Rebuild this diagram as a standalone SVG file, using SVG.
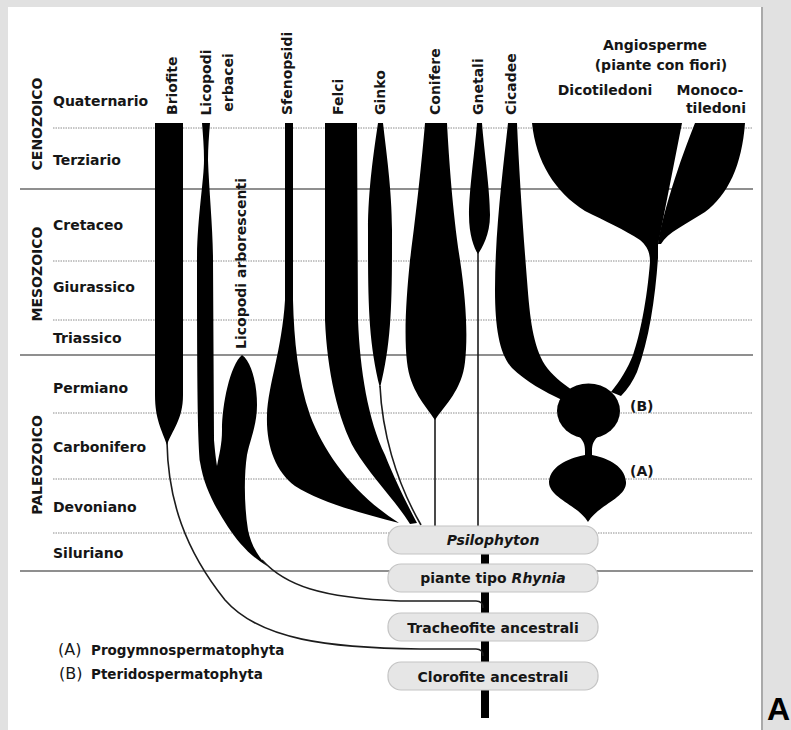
<svg xmlns="http://www.w3.org/2000/svg" width="791" height="730" viewBox="0 0 791 730">
  <style>
    .t { font-family: "DejaVu Sans", Verdana, sans-serif; font-weight: bold; font-size: 14px; fill: #161616; }
    .leg { font-size: 13.5px; }
    .par { font-weight: normal; font-size: 16px; }
    .solid { stroke: #6a6a6a; stroke-width: 1.3; fill: none; }
    .dot { stroke: #8c8c8c; stroke-width: 1; stroke-dasharray: 1.5 1; fill: none; }
    .clade { fill: #000; }
    .thin { stroke: #1c1c1c; stroke-width: 1.6; fill: none; }
    .box { fill: #e6e6e6; stroke: #c4c4c4; stroke-width: 1.2; }
  </style>

  <!-- page and panel -->
  <rect x="0" y="0" width="791" height="730" fill="#e1e1e1"/>
  <rect x="8" y="7" width="754" height="723" fill="#fff"/>
  <line x1="762" y1="7" x2="762" y2="730" stroke="#a9a9a9" stroke-width="2"/>
  <text x="767" y="720" font-family="'Liberation Sans', Arial, sans-serif" font-weight="bold" font-size="32" fill="#000">A</text>

  <!-- time scale grid -->
  <g id="grid">
    <line class="dot" x1="53" y1="128" x2="752" y2="128"/>
    <line class="solid" x1="20" y1="189" x2="753" y2="189"/>
    <line class="dot" x1="53" y1="261" x2="752" y2="261"/>
    <line class="dot" x1="53" y1="320" x2="752" y2="320"/>
    <line class="solid" x1="20" y1="355" x2="753" y2="355"/>
    <line class="dot" x1="53" y1="413" x2="752" y2="413"/>
    <line class="dot" x1="53" y1="479" x2="752" y2="479"/>
    <line class="dot" x1="53" y1="533" x2="752" y2="533"/>
    <line class="solid" x1="20" y1="571" x2="753" y2="571"/>
  </g>

  <!-- eras -->
  <g id="eras" class="t">
    <text transform="translate(42,124) rotate(-90)" text-anchor="middle">CENOZOICO</text>
    <text transform="translate(42,274) rotate(-90)" text-anchor="middle">MESOZOICO</text>
    <text transform="translate(42,465) rotate(-90)" text-anchor="middle">PALEOZOICO</text>
  </g>

  <!-- periods -->
  <g id="periods" class="t">
    <text x="53" y="106">Quaternario</text>
    <text x="53" y="165">Terziario</text>
    <text x="53" y="230">Cretaceo</text>
    <text x="53" y="292">Giurassico</text>
    <text x="53" y="343">Triassico</text>
    <text x="53" y="393">Permiano</text>
    <text x="53" y="452">Carbonifero</text>
    <text x="53" y="512">Devoniano</text>
    <text x="53" y="558">Siluriano</text>
  </g>

  <!-- connectors: stems leading back to the ancestral groups -->
  <g id="connectors">
    <rect x="481" y="554" width="8" height="164" fill="#000"/>
    <path class="thin" d="M167,442 C168,500 185,550 225,600 C260,640 330,648 420,649 L476,649 Q483,649 483,656"/>
    <path class="thin" stroke-width="2" d="M262,560 C285,585 320,598 400,601 L476,601 Q483,601 483,608"/>
    <path class="thin" d="M380,386 C382,430 395,480 421,525"/>
    <line class="thin" x1="435" y1="418" x2="435" y2="527"/>
    <line class="thin" x1="478" y1="250" x2="478" y2="527"/>
  </g>

  <!-- Briofite -->
  <g id="briofite">
    <path class="clade" d="M155,123 H183 V395 C183,420 172,430 167,445 C162,430 155,420 155,395 Z"/>
    <text class="t" transform="translate(177,115) rotate(-90)">Briofite</text>
  </g>

  <!-- Licopodi erbacei + arborescenti -->
  <g id="licopodi">
    <path class="clade" d="M202,123 L210,123 C209,135 208,148 208,160 C209,190 213,230 213,260 L214,440 C215,452 216,460 217,466 C219,455 222,445 222,430 C222,405 230,365 242,355 C252,362 257,385 257,405 C257,425 250,440 247,455 C244,475 244,505 248,530 C251,545 258,556 267,566 C250,556 238,542 228,527 C215,507 204,487 200,462 C198,440 197,400 197,260 C197,220 204,180 204,160 C204,148 203,135 202,123 Z"/>
    <text class="t" transform="translate(211,82.5) rotate(-90)" text-anchor="middle">Licopodi</text>
    <text class="t" transform="translate(233,82.5) rotate(-90)" text-anchor="middle">erbacei</text>
    <text class="t" transform="translate(246,349) rotate(-90)">Licopodi arborescenti</text>
  </g>

  <!-- Sfenopsidi -->
  <g id="sfenopsidi">
    <path class="clade" d="M285,123 L293,123 L293,300 C294,340 298,380 310,415 C325,455 355,495 399,523 C360,513 320,502 295,486 C275,471 266,445 267,415 C268,385 282,350 285,300 Z"/>
    <text class="t" transform="translate(292,115) rotate(-90)">Sfenopsidi</text>
  </g>

  <!-- Felci -->
  <g id="felci">
    <path class="clade" d="M325,123 L357,123 L358,320 C360,370 368,420 385,455 C395,480 405,500 417,523 L410,524 C395,500 370,475 355,450 C338,420 327,370 325,320 Z"/>
    <text class="t" transform="translate(343,115) rotate(-90)">Felci</text>
  </g>

  <!-- Ginko -->
  <g id="ginko">
    <path class="clade" d="M378,123 L383,123 C386,150 392,190 392,230 C392,300 392,340 380,388 C368,340 368,300 368,230 C368,190 374,150 378,123 Z"/>
    <text class="t" transform="translate(385,115) rotate(-90)">Ginko</text>
  </g>

  <!-- Conifere -->
  <g id="conifere">
    <path class="clade" d="M425,123 L447,123 C449,160 453,215 460,260 C466,300 468,335 465,362 C462,390 445,405 435,420 C425,405 410,390 407,362 C404,335 406,300 410,260 C416,215 422,160 425,123 Z"/>
    <text class="t" transform="translate(440,115) rotate(-90)">Conifere</text>
  </g>

  <!-- Gnetali -->
  <g id="gnetali">
    <path class="clade" d="M477,123 L482,123 C484,150 490,190 490,215 C490,235 482,248 478,254 C474,248 469,235 469,215 C469,190 475,150 477,123 Z"/>
    <text class="t" transform="translate(483,115) rotate(-90)">Gnetali</text>
  </g>

  <!-- Cicadee -->
  <g id="cicadee">
    <path class="clade" d="M508,123 L517,123 C519,170 523,230 527,280 C530,320 533,345 545,365 C552,375 562,383 572,390 L562,400 C545,392 525,381 512,368 C500,355 495,330 495,290 C495,230 503,170 508,123 Z"/>
    <text class="t" transform="translate(516,115) rotate(-90)">Cicadee</text>
  </g>

  <!-- Angiosperme -->
  <g id="angiosperme">
    <path class="clade" d="M532,123 L682,123 L658,245 L658,258 C655,300 649,340 637,372 C633,381 628,389 621,396 L611,392 C620,381 628,368 633,355 C640,335 647,300 650,262 C650,252 647,246 640,240 C625,230 605,221 585,211 C555,192 536,162 532,123 Z"/>
    <path class="clade" d="M695,123 L745,123 C742,165 728,195 705,212 C685,225 668,232 661,244 L658,244 C662,215 680,160 695,123 Z"/>
    <text class="t" x="655" y="50" text-anchor="middle">Angiosperme</text>
    <text class="t" x="661" y="70" text-anchor="middle">(piante con fiori)</text>
    <text class="t" x="605" y="95" text-anchor="middle">Dicotiledoni</text>
    <text class="t" x="710" y="95" text-anchor="middle">Monoco-</text>
    <text class="t" x="716" y="113" text-anchor="middle">tiledoni</text>
  </g>

  <!-- Pteridospermatophyta (B) and Progymnospermatophyta (A) -->
  <g id="seed-ferns">
    <ellipse class="clade" cx="588.5" cy="411" rx="31.5" ry="27.5"/>
    <path class="clade" d="M576,434 C584,440 585,445 585,451 L585,457 L592,457 L592,451 C592,445 593,440 601,434 Z"/>
    <path class="clade" d="M585,455 C574,457 550,464 549,482 C549,498 578,505 588,522 C598,505 627,498 626,482 C625,464 603,457 592,455 Z"/>
    <text class="t" x="630" y="411">(B)</text>
    <text class="t" x="630" y="476">(A)</text>
  </g>

  <!-- ancestral groups -->
  <g id="psilophyton">
    <rect class="box" x="388" y="526" width="210" height="28" rx="13"/>
    <text class="t" x="493" y="545" text-anchor="middle" font-style="italic">Psilophyton</text>
  </g>
  <g id="rhynia">
    <rect class="box" x="388" y="564" width="210" height="28" rx="13"/>
    <text class="t" x="493" y="583" text-anchor="middle">piante tipo <tspan font-style="italic">Rhynia</tspan></text>
  </g>
  <g id="tracheofite">
    <rect class="box" x="388" y="613" width="210" height="28" rx="13"/>
    <text class="t" x="493" y="633" text-anchor="middle">Tracheofite ancestrali</text>
  </g>
  <g id="clorofite">
    <rect class="box" x="388" y="662" width="210" height="28" rx="13"/>
    <text class="t" x="493" y="682" text-anchor="middle">Clorofite ancestrali</text>
  </g>

  <!-- legend -->
  <g id="legend" class="t">
    <text x="58" y="655"><tspan class="par">(A)</tspan> <tspan class="leg" x="91">Progymnospermatophyta</tspan></text>
    <text x="59" y="679"><tspan class="par">(B)</tspan> <tspan class="leg" x="91">Pteridospermatophyta</tspan></text>
  </g>
</svg>
